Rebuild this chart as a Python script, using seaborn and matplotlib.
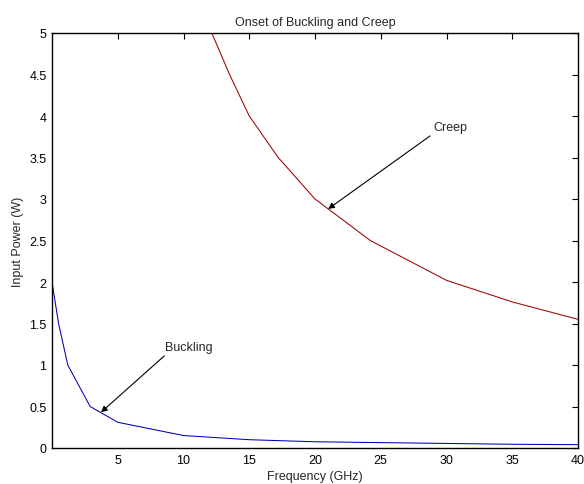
import numpy as np
import pandas as pd
import matplotlib
matplotlib.use("Agg")
import matplotlib.pyplot as plt
import seaborn as sns

# Datos
buckling_freq = [0, 0.5, 1.2, 2.9, 5, 10, 15, 20, 25, 30, 35, 40]
buckling_power = [2.0, 1.5, 1.0, 0.5, 0.31, 0.15, 0.10, 0.075, 0.065, 0.055, 0.045, 0.04]

creep_freq = [10, 13.5, 15, 17.2, 20, 24.2, 30, 35, 40]
creep_power = [5.8, 4.5, 4.0, 3.5, 3.0, 2.5, 2.02, 1.76, 1.55]

x_ticks = [5, 10, 15, 20, 25, 30, 35, 40]
y_ticks = [0, 0.5, 1, 1.5, 2, 2.5, 3, 3.5, 4, 4.5, 5]
y_tick_labels = ["0", "0.5", "1", "1.5", "2", "2.5", "3", "3.5", "4", "4.5", "5"]

df_b = pd.DataFrame({"freq": buckling_freq, "power": buckling_power})
df_c = pd.DataFrame({"freq": creep_freq, "power": creep_power})

sns.set_style("white")
plt.rcParams["font.family"] = ["Liberation Sans", "DejaVu Sans"]
plt.rcParams["font.size"] = 9

fig = plt.figure(figsize=(5.84, 4.85), dpi=100)
ax = fig.add_axes([52 / 584, 1 - 449 / 485, 526 / 584, 415 / 485])

sns.lineplot(data=df_b, x="freq", y="power", ax=ax, color="#0000b0",
             linewidth=0.75, sort=False, estimator=None)
sns.lineplot(data=df_c, x="freq", y="power", ax=ax, color="#a00000",
             linewidth=0.75, sort=False, estimator=None)

ax.set_xlim(0, 40)
ax.set_ylim(0, 5)
ax.set_xticks(x_ticks)
ax.set_xticklabels([str(t) for t in x_ticks])
ax.set_yticks(y_ticks)
ax.set_yticklabels(y_tick_labels)
ax.tick_params(direction="in", length=4, width=0.8, top=True, right=True,
               labelsize=9, colors="black", pad=4)
for s in ax.spines.values():
    s.set_visible(True)
    s.set_color("black")
    s.set_linewidth(1.0)

ax.set_title("Onset of Buckling and Creep", fontsize=9, pad=6)
ax.set_xlabel("Frequency (GHz)", fontsize=9, labelpad=3)
ax.set_ylabel("Input Power (W)", fontsize=9, labelpad=4)

arrow = dict(arrowstyle="-|>", color="black", lw=0.8, mutation_scale=9,
             shrinkA=0, shrinkB=0)
ax.annotate("", xy=(21.0, 2.88), xytext=(28.75, 3.76), arrowprops=arrow)
ax.text(28.97, 3.87, "Creep", ha="left", va="center", fontsize=9)
ax.annotate("", xy=(3.73, 0.43), xytext=(8.54, 1.11), arrowprops=arrow)
ax.text(8.6, 1.22, "Buckling", ha="left", va="center", fontsize=9)

fig.savefig("out.png", dpi=100)
